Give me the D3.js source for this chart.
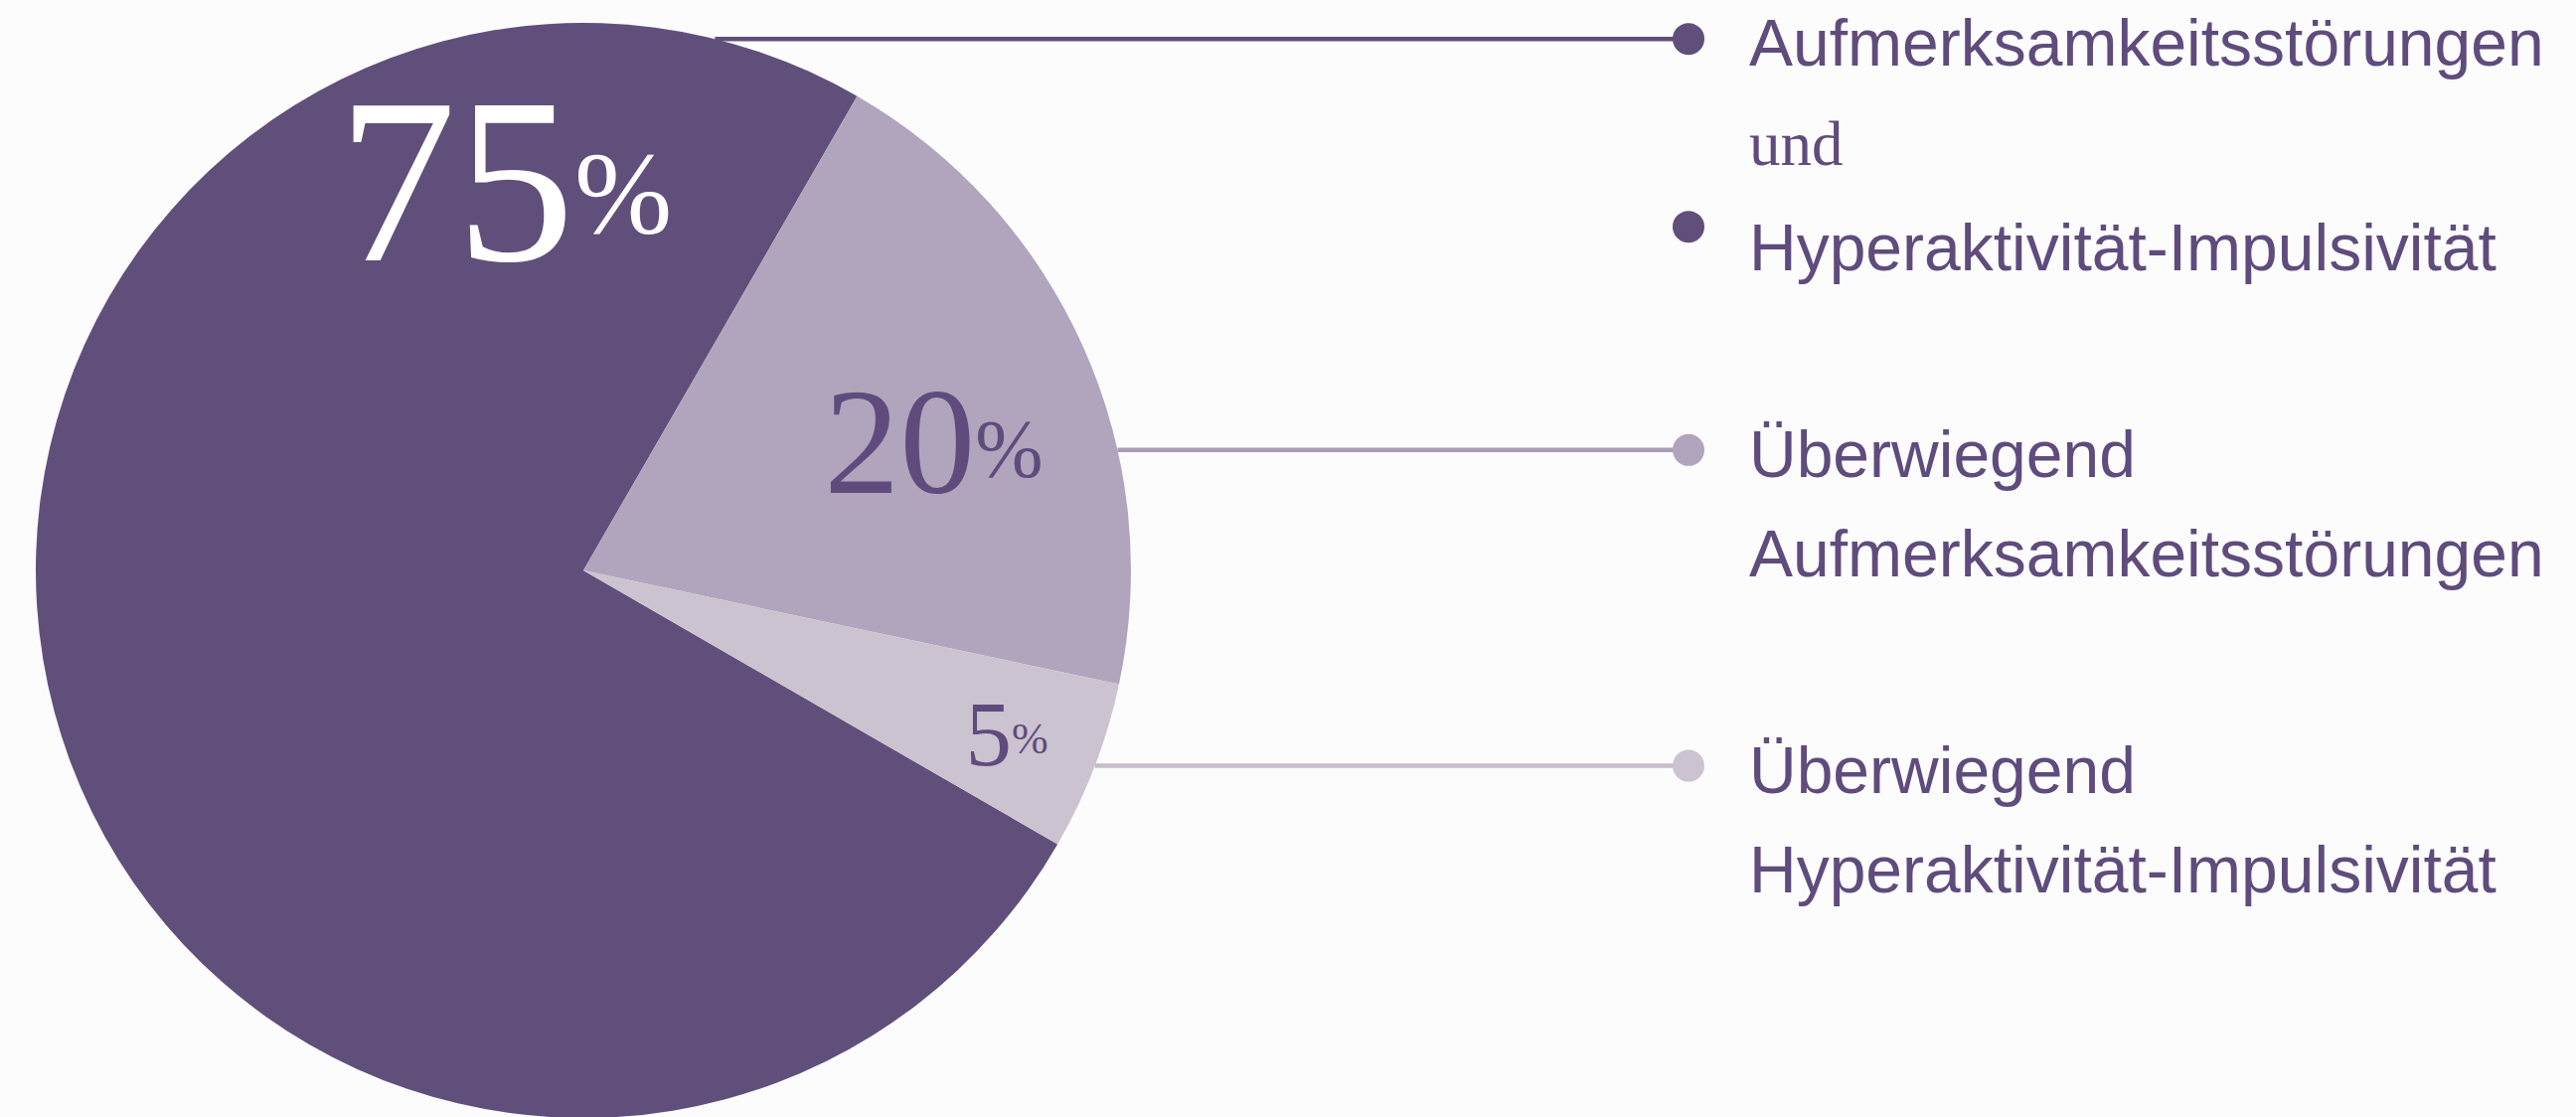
<!DOCTYPE html>
<html>
<head>
<meta charset="utf-8">
<script src="https://cdn.jsdelivr.net/npm/d3@7"></script>
<style>
  html, body { margin: 0; padding: 0; background: #fcfcfd; overflow: hidden; }
</style>
</head>
<body>
<div id="chart"></div>
<script>
// data
var categories = ["Aufmerksamkeitsstörungen und Hyperaktivität-Impulsivität",
                  "Überwiegend Aufmerksamkeitsstörungen",
                  "Überwiegend Hyperaktivität-Impulsivität"]
var values = [75, 20, 5]
var valueLabels = ["75", "20", "5"]
// legend lines per category (serif: true for the small "und")
var legendLines = [
    [{text: "Aufmerksamkeitsstörungen"}, {text: "und", serif: true}, {text: "Hyperaktivität-Impulsivität", dot: true}],
    [{text: "Überwiegend"}, {text: "Aufmerksamkeitsstörungen"}],
    [{text: "Überwiegend"}, {text: "Hyperaktivität-Impulsivität"}]
]

var colors = ["#614f7b", "#b1a5bd", "#cbc3cf"]
var lineColors = ["#614f7b", "#aa9db7", "#c6bccb"]
var textColor = "#5f4c7d"

var width = 2592
var height = 1124
var cx = 587, cy = 574, radius = 551

var svg = d3.select("#chart")
            .append("svg")
            .attr("width", width)
            .attr("height", height)
            .style("display", "block")

var toRad = Math.PI / 180

// 75% slice starts at 120deg, then 20% and 5% run clockwise from 30deg
var pie = d3.pie()
            .sort(null)
            .startAngle(120 * toRad)
            .endAngle(480 * toRad)

var arc = d3.arc()
            .innerRadius(0)
            .outerRadius(radius)

var g = svg.append("g")
           .attr("transform", "translate(" + cx + "," + cy + ")")

var arcs = pie(values)

g.selectAll("path")
    .data(arcs)
    .enter()
    .append("path")
    .attr("d", arc)
    .attr("fill", function(d, i){ return colors[i] })

// percent labels: angle (deg), radius, digit size, percent size, raise
var labelLayout = [
    {angle: -14.2, r: 322, size: 238, pSize: 118, raise: 28, fill: "#ffffff"},
    {angle: 77.5, r: 361, size: 152, pSize: 82, raise: 17, fill: textColor},
    {angle: 114.7, r: 469, size: 93, pSize: 44, raise: 12, fill: textColor}
]

function polar(angleDeg, r){
    return [r * Math.sin(angleDeg * toRad), -r * Math.cos(angleDeg * toRad)]
}

labelLayout.forEach(function(l, i){
    var p = polar(l.angle, l.r)
    var t = g.append("text")
             .attr("x", p[0])
             .attr("y", p[1])
             .attr("text-anchor", "middle")
             .attr("fill", l.fill)
             .style("font-family", "'Liberation Serif', 'DejaVu Serif', serif")
    t.append("tspan")
     .style("font-size", l.size + "px")
     .text(valueLabels[i])
    t.append("tspan")
     .attr("dy", -l.raise)
     .style("font-size", l.pSize + "px")
     .text("%")
})

// leader lines leave the pie edge at these angles
var leaderAngles = [13.9, 77.3, 110.9]
var dotX = 1699
var dotR = 16
var textX = 1760
var lineGap = 100

leaderAngles.forEach(function(a, i){
    var p = polar(a, radius)
    var y = cy + p[1]
    svg.append("line")
       .attr("x1", cx + p[0])
       .attr("x2", dotX)
       .attr("y1", y)
       .attr("y2", y)
       .attr("stroke", lineColors[i])
       .attr("stroke-width", 4.5)
    svg.append("circle")
       .attr("cx", dotX)
       .attr("cy", y)
       .attr("r", dotR)
       .attr("fill", colors[i])

    var baseline = y + 27
    legendLines[i].forEach(function(line, j){
        var by = baseline + j * lineGap
        if (line.dot) {
            by += 6
            svg.append("circle")
               .attr("cx", dotX)
               .attr("cy", by - 44)
               .attr("r", dotR)
               .attr("fill", colors[i])
        }
        svg.append("text")
           .attr("x", textX)
           .attr("y", by)
           .attr("fill", textColor)
           .style("font-family", line.serif ? "'Liberation Serif', serif" : "'Liberation Sans', Arial, sans-serif")
           .style("font-size", line.serif ? "63px" : "66px")
           .text(line.text)
    })
})
</script>
</body>
</html>
